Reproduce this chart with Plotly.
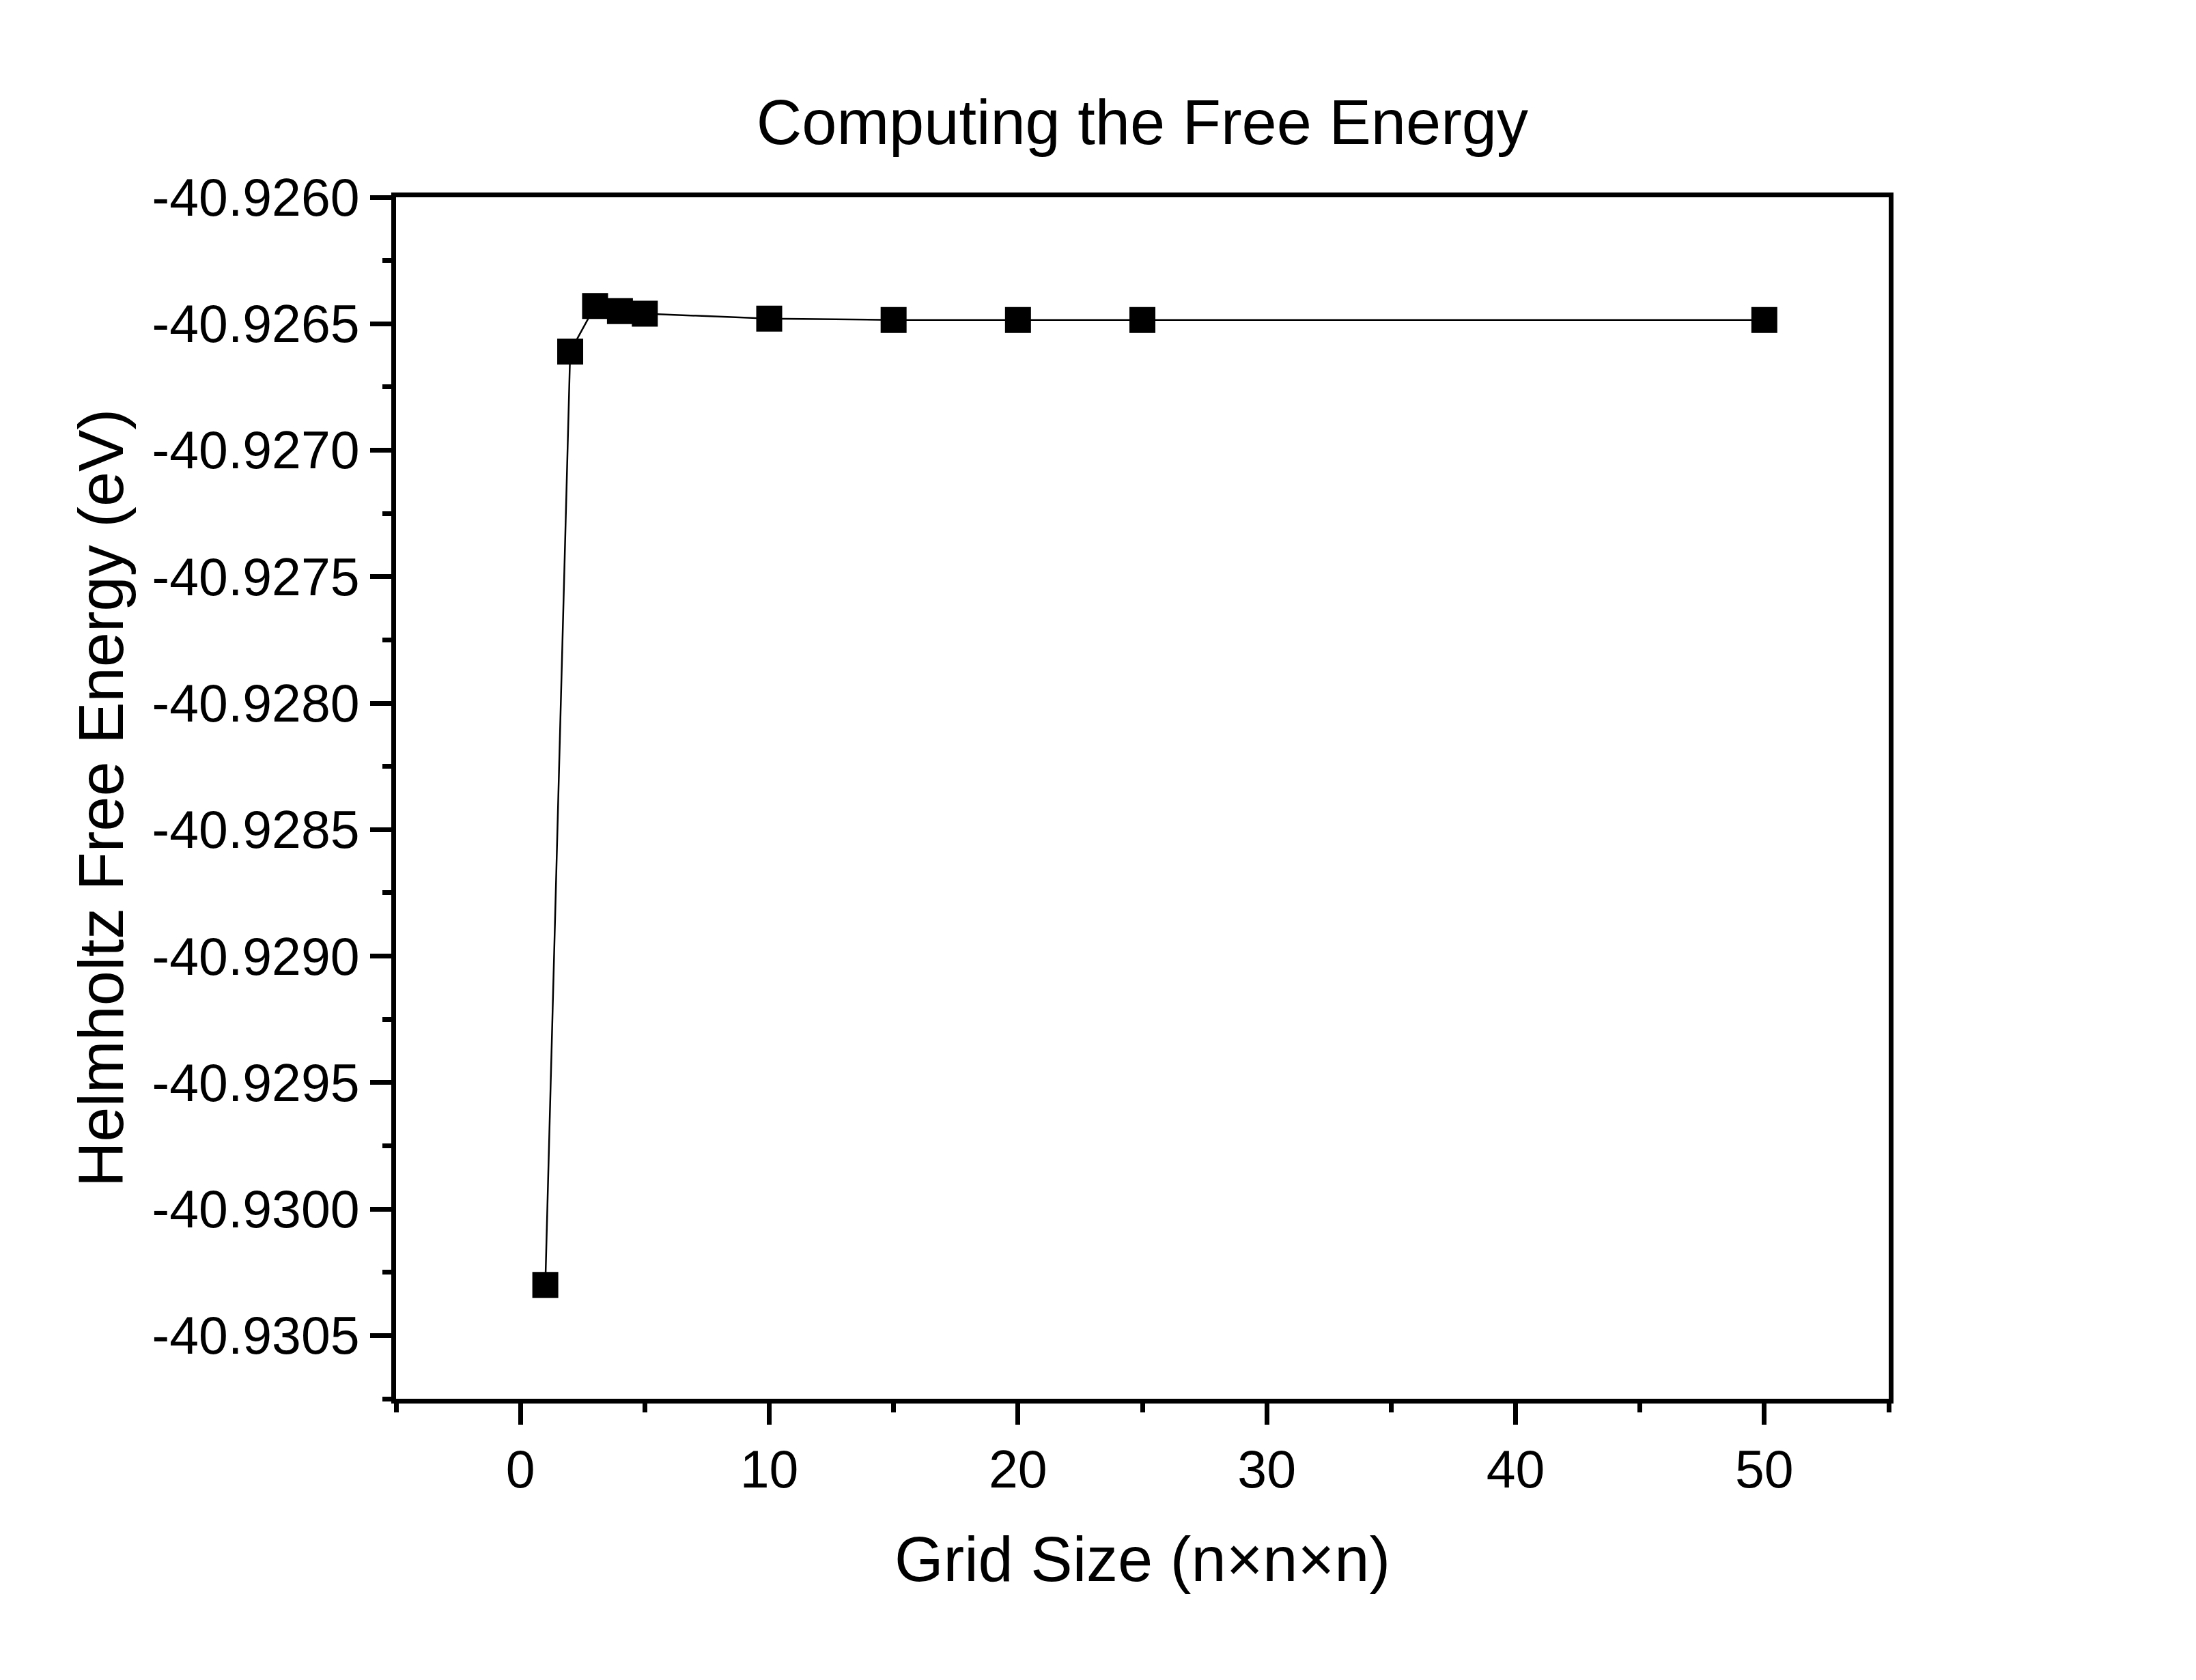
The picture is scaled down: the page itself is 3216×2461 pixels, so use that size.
import plotly.graph_objects as go

grid_size = [1, 2, 3, 4, 5, 10, 15, 20, 25, 50]
free_energy = [-40.93030, -40.92661, -40.92643, -40.92645, -40.92646,
               -40.92648, -40.926485, -40.926485, -40.926485, -40.926485]

y_tick_vals = [-40.9260, -40.9265, -40.9270, -40.9275, -40.9280,
               -40.9285, -40.9290, -40.9295, -40.9300, -40.9305]
y_tick_text = ['-40.9260', '-40.9265', '-40.9270', '-40.9275', '-40.9280',
               '-40.9285', '-40.9290', '-40.9295', '-40.9300', '-40.9305']

FONT = 'Liberation Sans, Arial, sans-serif'

fig = go.Figure()

fig.add_trace(go.Scatter(
    x=grid_size,
    y=free_energy,
    mode='lines+markers',
    line=dict(color='black', width=2.5),
    marker=dict(symbol='square', size=38, color='black', line=dict(width=0)),
    showlegend=False,
))

axis_common = dict(
    showline=True,
    linecolor='black',
    linewidth=7,
    mirror=True,
    showgrid=False,
    zeroline=False,
    ticks='outside',
    ticklen=31,
    tickwidth=7,
    tickcolor='black',
    tickfont=dict(family=FONT, size=77, color='black'),
    title_font=dict(family=FONT, size=92, color='black'),
)

fig.update_layout(
    title=dict(
        text='Computing the Free Energy',
        font=dict(family=FONT, size=92, color='black'),
        x=0.5177, xanchor='center',
        y=1 - 171 / 2461, yanchor='middle',
        xref='container', yref='container',
    ),
    xaxis=dict(
        axis_common,
        range=[-5, 55],
        tickmode='linear', tick0=0, dtick=10,
        minor=dict(tickmode='linear', tick0=0, dtick=5, ticks='outside',
                   ticklen=13, tickwidth=7, tickcolor='black'),
        title=dict(text='Grid Size (n×n×n)', standoff=60),
    ),
    yaxis=dict(
        axis_common,
        range=[-40.93075, -40.9260],
        tickmode='array', tickvals=y_tick_vals, ticktext=y_tick_text,
        minor=dict(tickmode='linear', tick0=-40.926, dtick=0.00025, ticks='outside',
                   ticklen=13, tickwidth=7, tickcolor='black'),
        title=dict(text='Helmholtz Free Energy (eV)', standoff=14),
    ),
    width=3216,
    height=2461,
    plot_bgcolor='white',
    paper_bgcolor='white',
    margin=dict(l=572, r=458, t=281, b=420, autoexpand=False),
)

fig.write_html("out.html")
